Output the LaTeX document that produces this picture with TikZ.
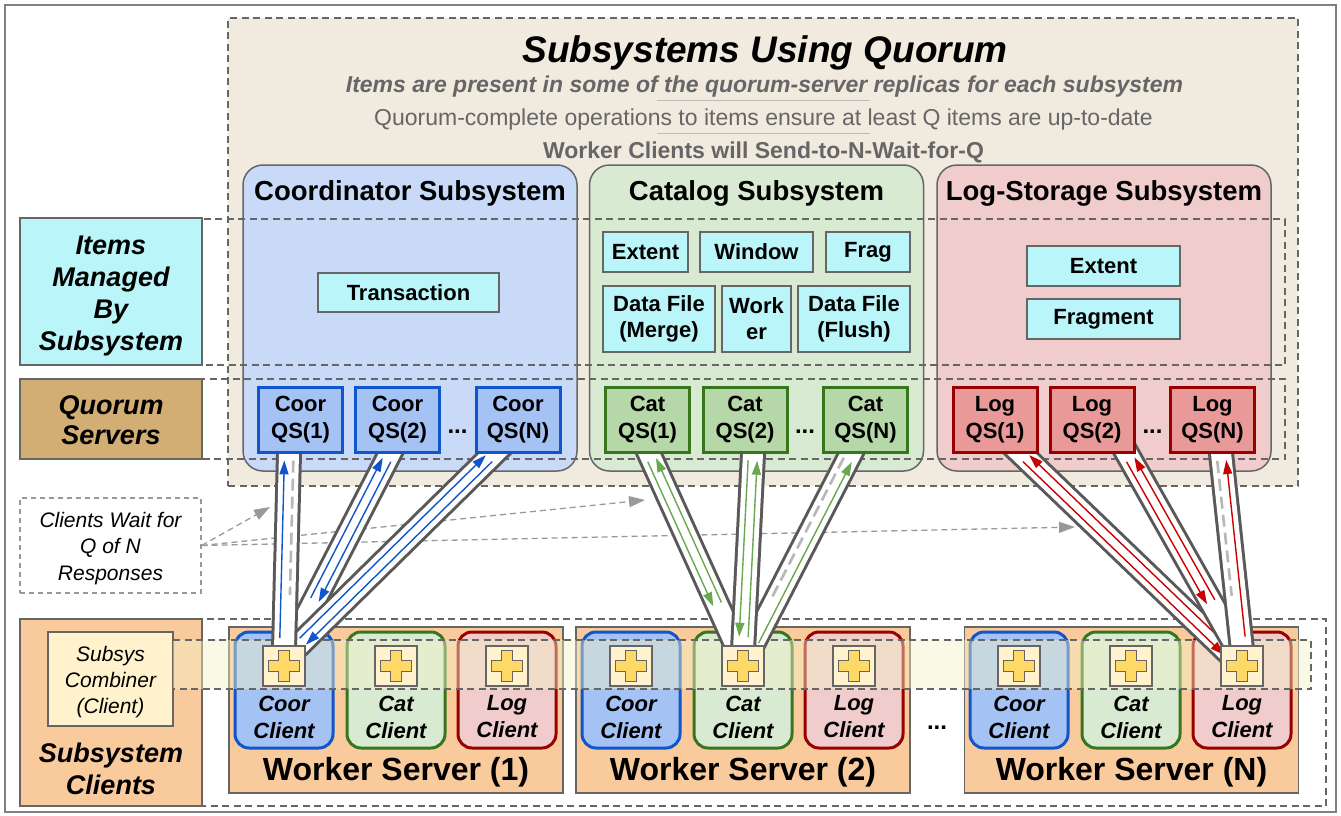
\documentclass[tikz,border=0pt]{standalone}
\usepackage{fontspec}
\setmainfont{Liberation Sans}
\usetikzlibrary{calc,arrows.meta}
\pgfdeclarelayer{front}
\pgfsetlayers{main,front}

\definecolor{framegray}{HTML}{808080}
\definecolor{edgegray}{HTML}{666666}
\definecolor{tanbg}{HTML}{F0EADF}
\definecolor{coorbg}{HTML}{C9DAF8}
\definecolor{catbg}{HTML}{D9EAD3}
\definecolor{logbg}{HTML}{F1CCCC}
\definecolor{itemcyan}{HTML}{B9F5F9}
\definecolor{quorumtan}{HTML}{D3AE74}
\definecolor{coorqs}{HTML}{A4C2F4}
\definecolor{coorline}{HTML}{1155CC}
\definecolor{catqs}{HTML}{B6D7A8}
\definecolor{catline}{HTML}{38761D}
\definecolor{logqs}{HTML}{EA9999}
\definecolor{logline}{HTML}{990000}
\definecolor{workerorange}{HTML}{F9CB9C}
\definecolor{combfill}{HTML}{FFF2CC}
\definecolor{plusfill}{HTML}{FFD966}
\definecolor{pipeedge}{HTML}{595959}
\definecolor{subtextgray}{HTML}{666666}
\definecolor{rulegray}{HTML}{BBBBBB}
\definecolor{bandyellow}{HTML}{F3F1C8}
\definecolor{coorarrow}{HTML}{1155CC}
\definecolor{catarrow}{HTML}{6AA84F}
\definecolor{logarrow}{HTML}{CC0000}
\definecolor{waitgray}{HTML}{B7B7B7}
\definecolor{notegray}{HTML}{999999}

% One quorum pipe: #1 top, #2 bottom, #3 colour, #4/#5 side angles,
% #6 inset of the flow lines at the bottom, #7 = 1 if the reply is still pending
\newcommand\qpipe[7]{%
  \draw[line width=26pt, draw=pipeedge] ($(#1)!-16pt!(#2)$) -- (#2);
  \draw[line width=20pt, draw=white] ($(#1)!-16pt!(#2)$) -- (#2);
  \coordinate (qtop) at ($(#1)!7pt!(#2)$);
  \coordinate (qbot) at ($(#2)!#6!(#1)$);
  \coordinate (qdash) at ($(#2)!55pt!(#1)$);
  \draw[flowline, draw=#3] ($(qbot)!4.5pt!#4:(qtop)$) -- ($(qtop)!4.5pt!#5:(qbot)$);
  \ifnum#7=1
    \draw[waitline] ($(qtop)!4.5pt!#4:(qbot)$) -- ($(qdash)!4.5pt!#5:(qtop)$);
  \else
    \draw[flowline, draw=#3] ($(qtop)!4.5pt!#4:(qbot)$) -- ($(qbot)!4.5pt!#5:(qtop)$);
  \fi
}

\begin{document}
\begin{tikzpicture}[x=1pt, y=-1pt,
  dashedline/.style={draw=edgegray, line width=1.3pt, dash pattern=on 7pt off 4.5pt},
  sysbox/.style={draw=edgegray, line width=1.5pt, rounded corners=20pt, minimum width=334pt, minimum height=306pt, inner sep=0pt},
  systitle/.style={font=\fontsize{27.5}{32}\selectfont\bfseries, inner sep=0pt},
  item/.style={draw=edgegray, line width=1.5pt, fill=itemcyan, inner sep=0pt, align=center, font=\fontsize{22}{26}\selectfont\bfseries},
  qsbox/.style={line width=3pt, minimum width=84pt, minimum height=65pt, inner sep=0pt, align=center, font=\fontsize{22}{27}\selectfont\bfseries},
  coorqsbox/.style={qsbox, draw=coorline, fill=coorqs},
  catqsbox/.style={qsbox, draw=catline, fill=catqs},
  logqsbox/.style={qsbox, draw=logline, fill=logqs},
  dots/.style={font=\fontsize{24}{26}\selectfont\bfseries, inner sep=0pt},
  lbl/.style={draw=edgegray, line width=1.5pt, inner sep=0pt, minimum width=182pt},
  lbltext/.style={align=center, inner sep=0pt, font=\fontsize{27}{32}\selectfont\bfseries\itshape},
  worker/.style={draw=edgegray, line width=1.5pt, fill=workerorange, minimum width=334pt, minimum height=166pt, inner sep=0pt},
  wslabel/.style={font=\fontsize{32}{36}\selectfont\bfseries, inner sep=0pt},
  client/.style={line width=3pt, rounded corners=14pt, minimum width=98pt, minimum height=116pt, inner sep=0pt},
  coorclient/.style={client, draw=coorline, fill=coorqs},
  catclient/.style={client, draw=catline, fill=catbg},
  logclient/.style={client, draw=logline, fill=logbg},
  clientlabel/.style={align=center, inner sep=0pt, font=\fontsize{22}{27}\selectfont\bfseries\itshape},
  comb/.style={draw=edgegray, line width=1.5pt, fill=combfill, minimum width=42pt, minimum height=40pt, inner sep=0pt},
  combplus/.pic={\draw[draw=edgegray, line width=1pt, fill=plusfill]
    (-5.5,-15.5) -- (5.5,-15.5) -- (5.5,-5.5) -- (15.5,-5.5) -- (15.5,5.5) -- (5.5,5.5) -- (5.5,15.5)
    -- (-5.5,15.5) -- (-5.5,5.5) -- (-15.5,5.5) -- (-15.5,-5.5) -- (-5.5,-5.5) -- cycle;},
  notearrow/.style={draw=notegray, line width=1.3pt, dash pattern=on 6pt off 4pt, -{Triangle[length=16pt,width=11pt]}},
  flowline/.style={line width=1.4pt, -{Triangle[length=14pt,width=9pt]}},
  waitline/.style={draw=waitgray, line width=2.6pt, dash pattern=on 12pt off 6pt}
]
\useasboundingbox (0,0) rectangle (1341,816);

% outer frame
\draw[draw=framegray, line width=1.5pt] (5,5) rectangle (1336,812);

% quorum region
\node[draw=edgegray, fill=tanbg, line width=1.3pt, dash pattern=on 7pt off 4.5pt,
  minimum width=1070pt, minimum height=468pt, inner sep=0pt] (quorumregion) at (763,252) {};
\node[font=\fontsize{37}{44}\selectfont\bfseries\itshape, inner sep=0pt] (maintitle) at (765,53) {Subsystems Using Quorum};
\node[text=subtextgray, font=\fontsize{23}{27}\selectfont\bfseries\itshape, inner sep=0pt] (note1) at (764.5,87) {Items are present in some of the quorum-server replicas for each subsystem};
\node[text=subtextgray, font=\fontsize{23}{27}\selectfont, inner sep=0pt] (note2) at (763.5,120) {Quorum-complete operations to items ensure at least Q items are up-to-date};
\node[text=subtextgray, font=\fontsize{23}{27}\selectfont\bfseries, inner sep=0pt] (note3) at (763.5,152) {Worker Clients will Send-to-N-Wait-for-Q};
\draw[draw=rulegray, line width=0.8pt] (657,100) -- (870,100);
\draw[draw=rulegray, line width=0.8pt] (657,133) -- (870,133);

% subsystems
\node[sysbox, fill=coorbg] (coorsys) at (410,318) {};
\node[sysbox, fill=catbg] (catsys) at (756.5,318) {};
\node[sysbox, fill=logbg] (logsys) at (1104,318) {};
\node[systitle] (coortitle) at (410,193) {Coordinator Subsystem};
\node[systitle] (cattitle) at (756.5,193) {Catalog Subsystem};
\node[systitle] (logtitle) at (1104,193) {Log-Storage Subsystem};

% items
\node[item, minimum width=181pt, minimum height=39pt] (transaction) at (408.5,292.5) {Transaction};
\node[item, minimum width=85pt, minimum height=40pt] (catextent) at (645.5,252) {Extent};
\node[item, minimum width=113pt, minimum height=40pt] (catwindow) at (756.5,252) {Window};
\node[item, minimum width=84pt, minimum height=40pt] (catfrag) at (868,252) {Frag};
\node[item, minimum width=112pt, minimum height=66pt] (catmerge) at (659,319) {Data File\\(Merge)};
\node[item, minimum width=69pt, minimum height=66pt] (catworker) at (756.5,319) {Work\\er};
\node[item, minimum width=112pt, minimum height=66pt] (catflush) at (854,319) {Data File\\(Flush)};
\node[item, minimum width=153pt, minimum height=40pt] (logextent) at (1103.5,266) {Extent};
\node[item, minimum width=153pt, minimum height=40pt] (logfragment) at (1103.5,319) {Fragment};

% row bands
\draw[dashedline] (202,219) rectangle (1285,365);
\draw[dashedline] (202,379) rectangle (1285,459);

% row labels
\node[lbl, fill=itemcyan, minimum height=147pt] (itemslbl) at (111,291.5) {};
\node[lbltext] (itemstext) at (111,296) {Items\\Managed\\By\\Subsystem};
\node[lbl, fill=quorumtan, minimum height=80pt] (quorumlbl) at (111,419) {};
\node[lbltext, font=\fontsize{27}{30}\selectfont\bfseries\itshape] (quorumtext) at (111,420) {Quorum\\Servers};

% waiting note
\node[draw=notegray, dash pattern=on 5pt off 4pt, line width=1.2pt, fill=white,
  minimum width=181pt, minimum height=95pt, inner sep=0pt] (waitnote) at (110.5,545.5) {};
\node[align=center, inner sep=0pt, font=\fontsize{21}{26.5}\selectfont\itshape] (waittext) at (110.5,548.5) {Clients Wait for\\Q of N\\Responses};
\coordinate (waitcoor) at (270,507);
\coordinate (waitcat) at (645,500);
\coordinate (waitlog) at (1075,527);
\draw[notearrow] (waitnote.east) -- (waitcoor);
\draw[notearrow] (waitnote.east) -- (waitcat);
\draw[notearrow] (waitnote.east) -- (waitlog);

% client row
\node[lbl, fill=workerorange, minimum height=187pt] (clientslbl) at (111,712.5) {};
\node[lbltext] (clientstext) at (111,769) {Subsystem\\Clients};
\draw[dashedline] (202,619) rectangle (1326,806);
\node[draw=edgegray, line width=1.5pt, fill=combfill, minimum width=125pt, minimum height=94pt,
  inner sep=0pt] (combinerlbl) at (110.5,679) {};
\node[align=center, inner sep=0pt, font=\fontsize{21}{26}\selectfont\itshape] (combinertext) at (110.5,682) {Subsys\\Combiner\\(Client)};

\node[worker] (ws1) at (396,710) {};
\node[worker] (ws2) at (743,710) {};
\node[worker] (wsn) at (1131.5,710) {};
\node[wslabel] (ws1label) at (396,772) {Worker Server (1)};
\node[wslabel] (ws2label) at (743,772) {Worker Server (2)};
\node[wslabel] (wsnlabel) at (1131.5,772) {Worker Server (N)};
\node[dots] (wsdots) at (937,728) {...};

\foreach \o/\s in {0/1, 347/2, 735/n} {
  \node[coorclient] (coorcl\s) at (284+\o,690) {};
  \node[catclient] (catcl\s) at (396+\o,690) {};
  \node[logclient] (logcl\s) at (507+\o,690) {};
  \node[clientlabel] (coorcllabel\s) at (284+\o,717) {Coor\\Client};
  \node[clientlabel] (catcllabel\s) at (396+\o,717) {Cat\\Client};
  \node[clientlabel] (logcllabel\s) at (507+\o,717) {Log\\Client};
}

% combiner band
\fill[bandyellow, opacity=0.45] (173,640) rectangle (1311,689);
\draw[dashedline] (173,640) -- (1311,640) -- (1311,689) -- (173,689);

% quorum servers and combiners sit above the pipes
\begin{pgfonlayer}{front}
  \node[coorqsbox] (cqs1) at (300.5,419.5) {Coor\\QS(1)};
  \node[coorqsbox] (cqs2) at (397.5,419.5) {Coor\\QS(2)};
  \node[coorqsbox] (cqsn) at (518,419.5) {Coor\\QS(N)};
  \node[dots] (cdots) at (457.5,432) {...};
  \node[catqsbox] (kqs1) at (647.5,419.5) {Cat\\QS(1)};
  \node[catqsbox] (kqs2) at (745,419.5) {Cat\\QS(2)};
  \node[catqsbox] (kqsn) at (865.5,419.5) {Cat\\QS(N)};
  \node[dots] (kdots) at (805,432) {...};
  \node[logqsbox] (lqs1) at (995,419.5) {Log\\QS(1)};
  \node[logqsbox] (lqs2) at (1092,419.5) {Log\\QS(2)};
  \node[logqsbox] (lqsn) at (1212.5,419.5) {Log\\QS(N)};
  \node[dots] (ldots) at (1152.5,432) {...};
  \foreach \x/\n in {284/c1, 396/k1, 507/l1, 631/c2, 743/k2, 854/l2, 1019/cn, 1131/kn, 1242/ln} {
    \node[comb] (comb\n) at (\x,666) {};
    \pic at (comb\n) {combplus};
  }
\end{pgfonlayer}

% pipe end points
\coordinate (c1t) at ($(cqs1.south)+(-11.5,0)$);
\coordinate (c2t) at ($(cqs2.south)+(-7.5,0)$);
\coordinate (c3t) at ($(cqsn.south)+(-24,0)$);
\coordinate (c1b) at ($(combc1.center)+(0,-16)$);
\coordinate (c2b) at ($(combc1.center)+(6,-18)$);
\coordinate (c3b) at ($(combc1.center)+(8,-14)$);
\coordinate (k1t) at ($(kqs1.south)+(1.5,0)$);
\coordinate (k2t) at ($(kqs2.south)+(8,0)$);
\coordinate (k3t) at ($(kqsn.south)+(-14.5,0)$);
\coordinate (k1b) at ($(combk2.center)+(-5,-16)$);
\coordinate (k2b) at ($(combk2.center)+(0,-16)$);
\coordinate (k3b) at ($(combk2.center)+(7,-16)$);
\coordinate (l1t) at ($(lqs1.south)+(26,0)$);
\coordinate (l2t) at ($(lqs2.south)+(35,0)$);
\coordinate (l3t) at ($(lqsn.south)+(8.5,0)$);
\coordinate (l1b) at ($(combln.center)+(-6,-6)$);
\coordinate (l2b) at ($(combln.center)+(-4,-16)$);
\coordinate (l3b) at ($(combln.center)+(0,-16)$);

% pipes: send up, reply down (dashed grey = reply still pending)
\qpipe{c2t}{c2b}{coorarrow}{90}{270}{54pt}{0}
\qpipe{c3t}{c3b}{coorarrow}{90}{270}{15pt}{0}
\qpipe{c1t}{c1b}{coorarrow}{90}{270}{12pt}{1}
\qpipe{k1t}{k1b}{catarrow}{270}{90}{50pt}{0}
\qpipe{k3t}{k3b}{catarrow}{270}{90}{10pt}{1}
\qpipe{k2t}{k2b}{catarrow}{270}{90}{13pt}{0}
\qpipe{l1t}{l1b}{logarrow}{270}{90}{12pt}{0}
\qpipe{l2t}{l2b}{logarrow}{270}{90}{55pt}{0}
\qpipe{l3t}{l3b}{logarrow}{270}{90}{13pt}{1}
\end{tikzpicture}
\end{document}
